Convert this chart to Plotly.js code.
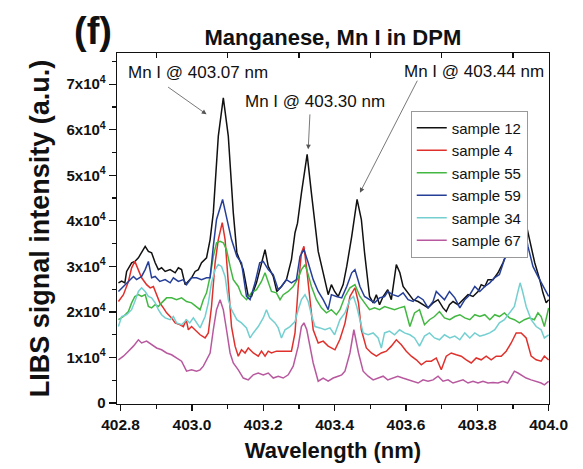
<!DOCTYPE html>
<html>
<head>
<meta charset="utf-8">
<script src="https://cdn.plot.ly/plotly-3.0.1.min.js"></script>
<style>html,body{margin:0;padding:0;background:#fff;}#chart{width:583px;height:469px;}</style>
</head>
<body>
<div id="chart"></div>
<script>
// Sample 12 (black)
const x12 = [402.794,402.803,402.812,402.817,402.831,402.840,402.850,402.859,402.869,402.878,402.887,402.897,402.906,402.915,402.925,402.939,402.953,402.962,402.971,402.981,402.990,402.999,403.009,403.018,403.027,403.041,403.051,403.060,403.074,403.088,403.102,403.116,403.126,403.144,403.158,403.167,403.181,403.195,403.205,403.214,403.228,403.238,403.251,403.265,403.279,403.289,403.296,403.307,403.323,403.335,403.349,403.354,403.368,403.382,403.391,403.400,403.410,403.424,403.434,403.448,403.463,403.475,403.484,403.498,403.508,403.517,403.526,403.536,403.549,403.559,403.573,403.583,403.592,403.606,403.620,403.634,403.648,403.662,403.676,403.690,403.704,403.713,403.722,403.732,403.746,403.760,403.774,403.788,403.802,403.811,403.821,403.830,403.844,403.858,403.872,403.881,403.895,403.904,403.918,403.932,403.947,403.961,403.975,403.984,403.993,404.000];
const y12 = [26400,26800,26400,28900,30800,31100,31900,33000,34400,33300,33000,30800,29300,29700,28900,29300,28600,29700,29300,26000,26700,27500,28900,29300,30800,31900,35900,41800,58600,67000,58600,41800,33000,29300,23400,23400,26400,30800,33700,30000,27800,24500,25600,27100,31500,37400,39500,46100,54600,46100,35900,33300,28600,23800,26000,24500,23400,26000,30000,36600,44700,40300,33000,23400,22000,23800,21600,23400,24900,22700,30400,28600,25600,24200,22700,22300,21600,20900,22000,22700,20900,20100,21600,22300,21600,22700,23800,23400,24500,26000,25600,27100,27100,28600,30800,32600,35900,38800,42500,41000,35900,30800,27100,24200,22000,22700];

// Sample 4 (red)
const x4 = [402.794,402.808,402.822,402.831,402.840,402.850,402.859,402.873,402.883,402.892,402.901,402.910,402.920,402.929,402.943,402.953,402.967,402.976,402.984,402.990,402.999,403.009,403.023,403.037,403.046,403.055,403.065,403.074,403.085,403.093,403.102,403.111,403.121,403.130,403.139,403.149,403.158,403.172,403.186,403.195,403.205,403.214,403.223,403.237,403.251,403.265,403.279,403.289,403.298,403.307,403.314,403.322,403.331,403.340,403.354,403.368,403.382,403.401,403.415,403.429,403.443,403.457,403.467,403.475,403.489,403.503,403.517,403.531,403.545,403.559,403.573,403.587,403.601,403.615,403.629,403.643,403.657,403.671,403.685,403.699,403.713,403.727,403.741,403.755,403.769,403.783,403.797,403.811,403.825,403.839,403.853,403.867,403.881,403.895,403.909,403.923,403.937,403.951,403.965,403.979,403.988,404.000];
const y4 = [22300,23800,26700,29700,31100,29300,27500,26000,25300,25600,23800,22000,20900,19800,18700,17600,17200,16800,18300,16100,16800,16100,15000,14300,15400,21200,30800,35900,39600,35900,25600,16800,12500,10300,11700,11000,12100,11000,10300,11400,10300,11400,11000,11400,11400,11400,11400,15400,25600,33000,34400,29300,22000,16100,13200,13600,12500,11700,14000,17500,23400,25300,22000,16100,12100,11000,10300,11000,11400,12500,13900,12800,11400,10300,9500,8400,9200,9200,9900,7300,10300,11000,10600,10300,9500,8800,9900,9500,10300,9500,10300,10300,11400,13200,15400,15400,14300,10300,9500,9200,10300,9500];

// Sample 55 (green)
const x55 = [402.794,402.808,402.822,402.831,402.840,402.850,402.859,402.869,402.878,402.887,402.897,402.906,402.915,402.929,402.943,402.957,402.971,402.985,402.999,403.013,403.023,403.032,403.041,403.051,403.060,403.069,403.079,403.088,403.097,403.107,403.116,403.130,403.139,403.153,403.167,403.181,403.195,403.205,403.214,403.223,403.237,403.247,403.256,403.270,403.284,403.298,403.307,403.317,403.326,403.335,403.349,403.363,403.377,403.391,403.405,403.415,403.429,403.443,403.457,403.471,403.484,403.498,403.512,403.526,403.540,403.554,403.568,403.582,403.596,403.611,403.624,403.638,403.652,403.666,403.680,403.694,403.708,403.723,403.737,403.751,403.765,403.779,403.793,403.807,403.821,403.835,403.849,403.862,403.876,403.890,403.904,403.918,403.932,403.946,403.960,403.970,403.979,403.988,404.000];
const y55 = [18300,19000,20100,22000,23400,23800,23400,23800,21200,20900,21600,21200,22000,23100,23100,22700,23100,22300,22000,21200,20500,22700,24200,27800,32200,35200,35500,35200,33700,30000,27100,25600,23800,22700,24200,24900,26700,28600,26700,24500,24200,22700,23800,24500,25600,27500,29300,30400,28200,25600,22700,20900,19800,20500,19400,20500,23400,25300,26000,23400,22000,20500,20900,20500,21200,20900,20500,20900,21200,16800,19800,20500,17200,18300,19000,20100,18700,18300,19000,19400,18700,18300,19400,19000,19400,18300,19400,19000,19800,18700,18300,17600,18300,18700,18300,19800,19000,16800,20900];

// Sample 59 (blue)
const x59 = [402.794,402.808,402.822,402.836,402.845,402.859,402.869,402.878,402.887,402.897,402.910,402.925,402.939,402.948,402.962,402.976,402.985,402.999,403.013,403.027,403.041,403.051,403.060,403.069,403.086,403.102,403.111,403.126,403.139,403.153,403.163,403.177,403.190,403.200,403.214,403.228,403.242,403.251,403.265,403.279,403.293,403.303,403.314,403.326,403.340,403.354,403.368,403.382,403.391,403.405,403.420,403.434,403.448,403.457,403.471,403.484,403.498,403.512,403.526,403.540,403.549,403.563,403.578,403.592,403.606,403.620,403.634,403.648,403.662,403.676,403.685,403.699,403.708,403.722,403.737,403.751,403.765,403.779,403.793,403.807,403.821,403.835,403.848,403.862,403.876,403.890,403.900,403.915,403.930,403.942,403.956,403.970,403.984,403.993,404.000];
const y59 = [24500,25600,26700,27800,27100,27800,29300,31100,27500,27800,26700,27100,26400,27500,26700,27100,26000,27500,27500,27100,27500,27500,34400,40300,44700,38800,35900,32200,30800,23400,22700,26400,30800,31100,29300,28200,24900,25600,27100,26400,27100,32200,33700,30800,27100,24500,22700,20500,23800,23400,23100,25600,28600,29300,25600,23400,22700,22000,23100,23400,24500,23800,23400,24200,22700,22300,23400,22700,20900,22300,24500,23400,22700,24500,23100,20900,22700,23800,25600,24500,25600,26400,27500,28200,31500,34000,35900,40500,39500,34400,30000,27800,25600,24200,23400];

// Sample 34 (cyan)
const x34 = [402.794,402.803,402.817,402.831,402.840,402.850,402.859,402.869,402.878,402.887,402.897,402.906,402.915,402.925,402.939,402.948,402.957,402.971,402.985,402.994,403.004,403.013,403.023,403.037,403.046,403.055,403.065,403.074,403.083,403.093,403.102,403.111,403.126,403.139,403.153,403.163,403.172,403.186,403.200,403.209,403.218,403.233,403.242,403.251,403.261,403.275,403.289,403.298,403.307,403.317,403.326,403.335,403.345,403.359,403.373,403.387,403.400,403.415,403.429,403.443,403.453,403.462,403.471,403.480,403.494,403.508,403.522,403.531,403.540,403.554,403.568,403.582,403.596,403.611,403.624,403.638,403.652,403.666,403.680,403.694,403.708,403.723,403.737,403.751,403.765,403.779,403.793,403.807,403.821,403.835,403.849,403.862,403.876,403.890,403.904,403.913,403.920,403.927,403.937,403.951,403.965,403.979,403.988,404.000];
const y34 = [16800,19000,19400,20500,22300,24500,25300,24500,23400,23100,22000,20500,19400,18700,18300,19000,17600,17200,18300,17600,18700,17600,16500,19000,22000,26400,29300,30400,30000,27800,22700,20500,18300,17600,16500,14300,15400,16800,18700,20500,18700,17600,16500,14300,16100,16800,17900,20500,22700,23800,22300,19400,16800,16500,16100,16500,15000,18300,19800,22700,23400,21200,18300,15400,15000,15400,14300,12100,15400,15800,15000,16100,15400,15000,14300,12500,14700,15400,14300,13900,15000,14300,14700,13900,15400,14300,15400,14700,15000,15400,16100,17600,18300,19800,21200,24200,26400,24500,21200,18300,16800,16100,14300,15000];

// Sample 67 (magenta)
const x67 = [402.794,402.808,402.822,402.836,402.850,402.859,402.873,402.887,402.901,402.915,402.929,402.943,402.957,402.971,402.985,402.999,403.013,403.023,403.032,403.041,403.051,403.060,403.069,403.079,403.088,403.097,403.107,403.116,403.130,403.144,403.158,403.172,403.186,403.200,403.214,403.228,403.242,403.256,403.270,403.284,403.298,403.307,403.314,403.322,403.331,403.340,403.354,403.368,403.382,403.396,403.410,403.420,403.429,403.443,403.454,403.467,403.480,403.494,403.508,403.522,403.536,403.549,403.563,403.577,403.591,403.606,403.620,403.634,403.648,403.662,403.676,403.690,403.704,403.718,403.732,403.746,403.760,403.774,403.788,403.802,403.816,403.830,403.844,403.858,403.872,403.885,403.895,403.904,403.914,403.923,403.937,403.951,403.965,403.979,403.988,404.000];
const y67 = [9500,10300,11400,12500,13900,13200,13600,12800,12100,11700,11000,10600,9900,9200,7000,7300,7000,7300,8100,9500,11000,16100,20500,22700,20500,16100,11000,8800,7300,5500,5100,6200,6600,6200,6600,5500,5900,5500,6200,8100,12500,16800,17600,16100,12500,8800,4800,5500,4800,5500,5900,6200,7000,11000,16100,11000,7000,5900,5100,5500,5900,5100,5500,5900,5500,5100,4800,4400,5100,4800,5100,5900,4800,5100,4400,4800,5100,4400,4800,4400,4800,4400,4500,4400,4800,4400,5900,7000,6600,6200,5500,5100,4800,4400,4000,4800];

const seriesNames = ['sample 12','sample 4','sample 55','sample 59','sample 34','sample 67'];
const seriesX = [x12, x4, x55, x59, x34, x67];
const seriesY = [y12, y4, y55, y59, y34, y67];
const seriesColors = ['#111111','#e0302b','#42b842','#253f98','#74cfd0','#b8599f'];

const xTickVals = [402.8,403.0,403.2,403.4,403.6,403.8,404.0];
const xTickText = ['402.8','403.0','403.2','403.4','403.6','403.8','404.0'];
const yTickVals = [0,10000,20000,30000,40000,50000,60000,70000];
const yTickText = ['0','1x10<sup>4</sup>','2x10<sup>4</sup>','3x10<sup>4</sup>','4x10<sup>4</sup>','5x10<sup>4</sup>','6x10<sup>4</sup>','7x10<sup>4</sup>'];
const topTickVals = [402.9,403.1,403.3,403.5,403.7,403.9];
const yMinorVals = [5000,15000,25000,35000,45000,55000,65000,75000];

const lineLabels = ['Mn I @ 403.07 nm','Mn I @ 403.30 nm','Mn I @ 403.44 nm'];
const labelX = [403.017, 403.345, 403.790];
const labelY = [72600, 66300, 72700];
const arrowHeadX = [403.041, 403.326, 403.471];
const arrowHeadY = [63400, 55700, 46200];
const arrowTailX = [402.929, 403.331, 403.634];
const arrowTailY = [69600, 63700, 71100];

const boldFam = 'Liberation Sans, Arial, sans-serif';
const regFam = 'Liberation Sans, Arial, sans-serif';

const traces = seriesNames.map((n, i) => ({
  type: 'scatter', mode: 'lines', name: n,
  x: seriesX[i], y: seriesY[i],
  line: {color: seriesColors[i], width: 1.5},
  xaxis: 'x', yaxis: 'y'
}));
traces.push({type:'scatter', mode:'lines', x:[], y:[], xaxis:'x2', yaxis:'y', showlegend:false, hoverinfo:'skip'});

const annotations = [];
for (let i = 0; i < lineLabels.length; i++) {
  annotations.push({
    x: labelX[i], y: labelY[i], xref: 'x', yref: 'y', text: lineLabels[i],
    showarrow: false, font: {family: regFam, size: 17, color: '#111'},
    xanchor: 'center', yanchor: 'middle'
  });
  annotations.push({
    x: arrowHeadX[i], y: arrowHeadY[i], xref: 'x', yref: 'y',
    ax: arrowTailX[i], ay: arrowTailY[i], axref: 'x', ayref: 'y',
    text: '', showarrow: true, arrowhead: 2, arrowsize: 1.2, arrowwidth: 0.8,
    arrowcolor: '#555', standoff: 0, startstandoff: 0
  });
}
annotations.push({
  xref: 'paper', yref: 'paper', x: -0.056, y: 1.064, text: '(f)', showarrow: false,
  font: {family: boldFam, size: 38, color: '#111', weight: 700},
  xanchor: 'center', yanchor: 'middle'
});

const layout = {
  width: 583, height: 469,
  margin: {l: 117, r: 34, t: 53, b: 65},
  paper_bgcolor: '#fff', plot_bgcolor: '#fff',
  showlegend: true,
  title: {
    text: 'Manganese, Mn I in DPM',
    font: {family: boldFam, size: 22, color: '#111', weight: 700},
    x: 0.571, xanchor: 'center', y: 0.921, yanchor: 'middle'
  },
  xaxis: {
    range: [402.790, 404.001], tickmode: 'array', tickvals: xTickVals, ticktext: xTickText,
    ticks: 'outside', ticklen: 6, tickwidth: 1.2, tickcolor: '#111',
    showline: true, linecolor: '#111', linewidth: 1.3, mirror: true,
    showgrid: false, zeroline: false,
    tickfont: {family: boldFam, size: 15.5, color: '#111', weight: 700},
    minor: {tickvals: topTickVals, ticks: 'outside', ticklen: 4, tickwidth: 1.2, tickcolor: '#111', showgrid: false},
    title: {text: 'Wavelength (nm)', font: {family: boldFam, size: 22, color: '#111', weight: 700}, standoff: 10}
  },
  xaxis2: {
    overlaying: 'x', side: 'top', anchor: 'y', matches: 'x', range: [402.790, 404.001],
    tickmode: 'array', tickvals: topTickVals, ticks: 'inside', ticklen: 5, tickwidth: 1.2, tickcolor: '#111',
    showticklabels: false, showgrid: false, zeroline: false, showline: false
  },
  yaxis: {
    range: [-200, 76850], tickmode: 'array', tickvals: yTickVals, ticktext: yTickText,
    ticks: 'outside', ticklen: 7, tickwidth: 1.2, tickcolor: '#111',
    showline: true, linecolor: '#111', linewidth: 1.3, mirror: true,
    showgrid: false, zeroline: false,
    tickfont: {family: boldFam, size: 15, color: '#111', weight: 700},
    minor: {tickvals: yMinorVals, ticks: 'outside', ticklen: 4, tickwidth: 1.2, tickcolor: '#111', showgrid: false},
    title: {text: 'LIBS signal intensity (a.u.)', font: {family: boldFam, size: 27, color: '#111', weight: 700}, standoff: 9}
  },
  legend: {
    x: 0.680, y: 0.836, xanchor: 'left', yanchor: 'top',
    bgcolor: '#fff', bordercolor: '#999', borderwidth: 1,
    font: {family: regFam, size: 15, color: '#111'},
    tracegroupgap: 0
  },
  annotations: annotations
};

Plotly.newPlot('chart', traces, layout, {staticPlot: true, displayModeBar: false});
</script>
</body>
</html>
